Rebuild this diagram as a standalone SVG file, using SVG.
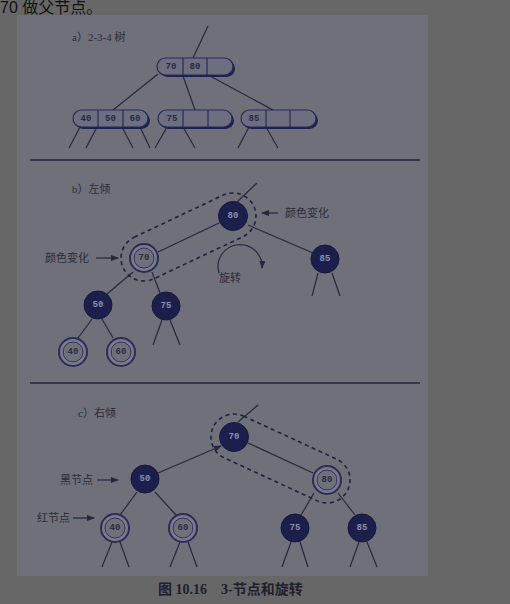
<svg xmlns="http://www.w3.org/2000/svg" width="510" height="604" viewBox="0 0 510 604">
<defs>
<style>
.bg{fill:#676767}
.page{fill:#6f7079}
.ln{stroke:#262840;stroke-width:1.2;fill:none}
.rule{stroke:#23253a;stroke-width:1.4}
.dash{fill:none;stroke:#1f2140;stroke-width:1.6;stroke-dasharray:4 3.5}
.blk circle{fill:#1c1f4c;stroke:#16183a;stroke-width:1}
.blk text{fill:#8a90b0}
.red .o{fill:#7a7b8e;stroke:#2a2d55;stroke-width:2}
.red .i{fill:#6f7079;stroke:#2a2d55;stroke-width:0.9}
.red text{fill:#2a2d45}
.num{font-family:"Liberation Mono",monospace;font-size:9px;font-weight:bold;text-anchor:middle;dominant-baseline:central}
.lbl{font-family:"Liberation Serif","Noto Sans CJK SC",serif;font-size:11px;fill:#2a2c3c}
.pill .sh{fill:#1e2150}
.pill .bd{fill:#6d6f80;stroke:#262a55;stroke-width:1.2}
.pill .dv{stroke:#262a55;stroke-width:1.2}
.pill text{fill:#252a45}
.cap{font-family:"Liberation Serif","Noto Sans CJK SC",serif;font-size:14px;font-weight:bold;fill:#1e2030}
</style>
<marker id="ah" markerWidth="8" markerHeight="6" refX="7" refY="3" orient="auto" markerUnits="userSpaceOnUse">
<path d="M0,0 L8,3 L0,6 Z" fill="#262840"/>
</marker>
</defs>
<rect class="bg" x="0" y="0" width="510" height="604"/>
<rect class="page" x="17" y="15" width="411" height="561"/>
<text x="0" y="13" font-family="Liberation Sans,'Noto Sans CJK SC',sans-serif" font-size="16" fill="#111">70 做父节点。</text>

<!-- rules -->
<line class="rule" x1="30" y1="160" x2="420" y2="160"/>
<line class="rule" x1="30" y1="383" x2="420" y2="383"/>

<!-- section a -->
<text class="lbl" x="72" y="41">a）2-3-4 树</text>
<g id="connectors">
<line class="ln" x1="208" y1="26" x2="193" y2="58"/>
<line class="ln" x1="158" y1="74" x2="113" y2="110"/>
<line class="ln" x1="183" y1="76" x2="195" y2="110"/>
<line class="ln" x1="210" y1="76" x2="273" y2="110"/>
<line class="ln" x1="80" y1="127" x2="69" y2="148"/>
<line class="ln" x1="97" y1="127" x2="86" y2="148"/>
<line class="ln" x1="122" y1="127" x2="133" y2="148"/>
<line class="ln" x1="140" y1="127" x2="150" y2="148"/>
<line class="ln" x1="167" y1="127" x2="155" y2="148"/>
<line class="ln" x1="183" y1="127" x2="195" y2="148"/>
<line class="ln" x1="249" y1="127" x2="238" y2="148"/>
<line class="ln" x1="266" y1="127" x2="278" y2="148"/>
<!-- b -->
<line class="ln" x1="237" y1="202" x2="257" y2="183"/>
<line class="ln" x1="219" y1="223" x2="158" y2="252"/>
<line class="ln" x1="248" y1="225" x2="313" y2="253"/>
<line class="ln" x1="318" y1="273" x2="312" y2="296"/>
<line class="ln" x1="332" y1="273" x2="340" y2="296"/>
<line class="ln" x1="133" y1="272" x2="107" y2="294"/>
<line class="ln" x1="152" y1="272" x2="160" y2="293"/>
<line class="ln" x1="162" y1="320" x2="153" y2="345"/>
<line class="ln" x1="170" y1="320" x2="180" y2="345"/>
<line class="ln" x1="92" y1="319" x2="78" y2="338"/>
<line class="ln" x1="102" y1="319" x2="113" y2="338"/>
<!-- c -->
<line class="ln" x1="238" y1="422" x2="258" y2="405"/>
<line class="ln" x1="158" y1="473" x2="221" y2="446" marker-end="url(#ah)"/>
<line class="ln" x1="248" y1="443" x2="313" y2="473"/>
<line class="ln" x1="137" y1="492" x2="120" y2="515"/>
<line class="ln" x1="155" y1="492" x2="176" y2="515"/>
<line class="ln" x1="314" y1="493" x2="301" y2="515"/>
<line class="ln" x1="338" y1="493" x2="355" y2="515"/>
<line class="ln" x1="112" y1="542" x2="102" y2="567"/>
<line class="ln" x1="120" y1="542" x2="129" y2="567"/>
<line class="ln" x1="180" y1="542" x2="170" y2="567"/>
<line class="ln" x1="188" y1="542" x2="197" y2="567"/>
<line class="ln" x1="291" y1="542" x2="282" y2="567"/>
<line class="ln" x1="300" y1="542" x2="308" y2="567"/>
<line class="ln" x1="359" y1="542" x2="350" y2="567"/>
<line class="ln" x1="367" y1="542" x2="377" y2="567"/>
<!-- label arrows -->
<line class="ln" x1="278" y1="213" x2="262" y2="213" marker-end="url(#ah)"/>
<line class="ln" x1="96" y1="258" x2="118" y2="258" marker-end="url(#ah)"/>
<line class="ln" x1="97" y1="480" x2="118" y2="480" marker-end="url(#ah)"/>
<line class="ln" x1="73" y1="518" x2="94" y2="518" marker-end="url(#ah)"/>
<path class="ln" d="M219,273 A22,22 0 1 1 262,268" marker-end="url(#ah)"/>
</g>

<g id="a-7080" class="pill">
<rect class="sh" x="159" y="60" width="76" height="17" rx="8.5"/>
<rect class="bd" x="157" y="58" width="76" height="17" rx="8.5"/>
<line class="dv" x1="183" y1="58" x2="183" y2="75"/><line class="dv" x1="207" y1="58" x2="207" y2="75"/>
<text class="num" x="171" y="66.5">70</text><text class="num" x="195" y="66.5">80</text>
</g>
<g id="a-405060" class="pill">
<rect class="sh" x="75" y="112" width="75" height="17" rx="8.5"/>
<rect class="bd" x="73" y="110" width="75" height="17" rx="8.5"/>
<line class="dv" x1="98" y1="110" x2="98" y2="127"/><line class="dv" x1="123" y1="110" x2="123" y2="127"/>
<text class="num" x="86" y="118.5">40</text><text class="num" x="110.5" y="118.5">50</text><text class="num" x="135" y="118.5">60</text>
</g>
<g id="a-75" class="pill">
<rect class="sh" x="160" y="112" width="74" height="17" rx="8.5"/>
<rect class="bd" x="158" y="110" width="74" height="17" rx="8.5"/>
<line class="dv" x1="183" y1="110" x2="183" y2="127"/><line class="dv" x1="208" y1="110" x2="208" y2="127"/>
<text class="num" x="172" y="118.5">75</text>
</g>
<g id="a-85" class="pill">
<rect class="sh" x="243" y="112" width="75" height="17" rx="8.5"/>
<rect class="bd" x="241" y="110" width="75" height="17" rx="8.5"/>
<line class="dv" x1="266" y1="110" x2="266" y2="127"/><line class="dv" x1="290" y1="110" x2="290" y2="127"/>
<text class="num" x="254" y="118.5">85</text>
</g>

<!-- section b -->
<text class="lbl" x="72" y="193">b）左倾</text>
<rect class="dash" x="116.3" y="214" width="144.4" height="46" rx="23" transform="rotate(-25.3 188.5 237)"/>
<g id="b-80" class="blk"><circle cx="233" cy="216" r="14.5"/><text class="num" x="233" y="216">80</text></g>
<g id="b-70" class="red"><circle class="o" cx="144" cy="258" r="14"/><circle class="i" cx="144" cy="258" r="10"/><text class="num" x="144" y="258">70</text></g>
<g id="b-85" class="blk"><circle cx="325" cy="259" r="14"/><text class="num" x="325" y="259">85</text></g>
<g id="b-50" class="blk"><circle cx="98" cy="305" r="14"/><text class="num" x="98" y="305">50</text></g>
<g id="b-75" class="blk"><circle cx="166" cy="306" r="14"/><text class="num" x="166" y="306">75</text></g>
<g id="b-40" class="red"><circle class="o" cx="73" cy="352" r="14"/><circle class="i" cx="73" cy="352" r="10"/><text class="num" x="73" y="352">40</text></g>
<g id="b-60" class="red"><circle class="o" cx="121" cy="352" r="14"/><circle class="i" cx="121" cy="352" r="10"/><text class="num" x="121" y="352">60</text></g>
<text class="lbl" x="285" y="217">颜色变化</text>
<text class="lbl" x="45" y="262">颜色变化</text>
<text class="lbl" x="230" y="282" text-anchor="middle">旋转</text>

<!-- section c -->
<text class="lbl" x="78" y="417">c）右倾</text>
<rect class="dash" x="206.25" y="435.5" width="148.5" height="46" rx="23" transform="rotate(24.8 280.5 458.5)"/>
<g id="c-70" class="blk"><circle cx="234" cy="437" r="14.5"/><text class="num" x="234" y="437">70</text></g>
<g id="c-50" class="blk"><circle cx="145" cy="479" r="14"/><text class="num" x="145" y="479">50</text></g>
<g id="c-80" class="red"><circle class="o" cx="327" cy="480" r="14"/><circle class="i" cx="327" cy="480" r="10"/><text class="num" x="327" y="480">80</text></g>
<g id="c-40" class="red"><circle class="o" cx="115" cy="528" r="14"/><circle class="i" cx="115" cy="528" r="10"/><text class="num" x="115" y="528">40</text></g>
<g id="c-60" class="red"><circle class="o" cx="183" cy="528" r="14"/><circle class="i" cx="183" cy="528" r="10"/><text class="num" x="183" y="528">60</text></g>
<g id="c-75" class="blk"><circle cx="295" cy="528" r="14"/><text class="num" x="295" y="528">75</text></g>
<g id="c-85" class="blk"><circle cx="362" cy="528" r="14"/><text class="num" x="362" y="528">85</text></g>
<text class="lbl" x="60" y="484">黑节点</text>
<text class="lbl" x="37" y="522">红节点</text>

<text class="cap" x="158" y="594">图 10.16</text>
<text class="cap" x="221" y="594">3-节点和旋转</text>
</svg>
